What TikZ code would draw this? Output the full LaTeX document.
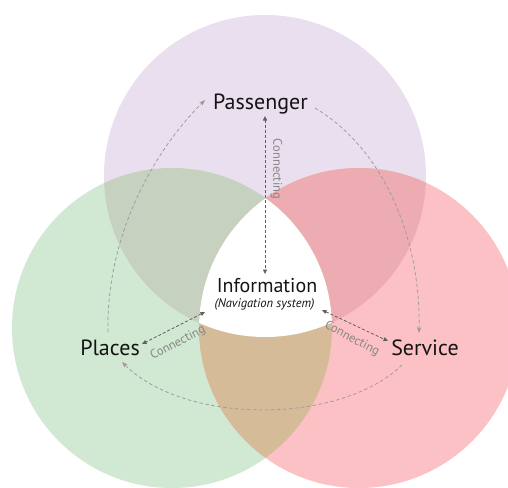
\documentclass[tikz,border=0pt]{standalone}
\usepackage{fontspec}
\setmainfont{PT Sans}
\usetikzlibrary{arrows.meta}
\definecolor{cTop}{RGB}{234,223,238}
\definecolor{cLeft}{RGB}{209,232,210}
\definecolor{cRight}{RGB}{252,193,197}
\definecolor{cTL}{RGB}{199,209,191}
\definecolor{cTR}{RGB}{237,172,177}
\definecolor{cLR}{RGB}{214,187,153}
\definecolor{cText}{RGB}{20,20,20}
\definecolor{cConn}{RGB}{135,135,135}
\definecolor{cLink}{RGB}{95,95,95}
\definecolor{cLoop}{RGB}{155,155,155}
\begin{document}
\begin{tikzpicture}[x=1pt,y=-1pt]
\tikzset{
  lbl/.style={font=\fontsize{22}{26}\selectfont, text=cText, inner sep=0pt, anchor=base},
  sublbl/.style={font=\fontsize{12.5}{14}\selectfont\itshape, text=cText, inner sep=0pt, anchor=base},
  conn/.style={font=\fontsize{12.5}{14}\selectfont, text=cConn, inner sep=0pt},
  link/.style={draw=cLink, dash pattern=on 3pt off 2pt, line width=0.8pt,
    {Triangle[length=4.5pt,width=4pt]}-{Triangle[length=4.5pt,width=4pt]}},
  loopline/.style={draw=cLoop, dash pattern=on 3.5pt off 2.5pt, line width=0.75pt,
    -{Stealth[length=6pt,width=4.5pt]}},
}
\useasboundingbox (0,0) rectangle (508,487);
\fill[white] (0,0) rectangle (508,487);
% circles
\def\topc{(265,176) circle[radius=161]}
\def\leftc{(172,328) circle[radius=160]}
\def\rightc{(359,328) circle[radius=160]}
\fill[cTop] \topc;
\fill[cLeft] \leftc;
\fill[cRight] \rightc;
\begin{scope}\clip \topc; \fill[cTL] \leftc; \end{scope}
\begin{scope}\clip \topc; \fill[cTR] \rightc; \end{scope}
\begin{scope}\clip \leftc; \fill[cLR] \rightc; \end{scope}
\begin{scope}\clip \topc; \clip \leftc; \fill[white] \rightc; \end{scope}

% labels
\node[lbl] (pass) at (260.5,109) {Passenger};
\node[lbl] (places) at (110,355) {Places};
\node[lbl] (serv) at (425,355) {Service};
\node[lbl, font=\fontsize{20}{23}\selectfont] (info) at (267,292) {Information};
\node[sublbl] (nav) at (264.5,307) {(Navigation system)};

% link end points
\coordinate (pB) at (265,116);
\coordinate (iT) at (265,274);
\coordinate (iL) at (205,312);
\coordinate (plR) at (142,344);
\coordinate (iR) at (322,310);
\coordinate (svL) at (388,341);
\draw[link] (pB) -- (iT);
\draw[link] (iL) -- (plR);
\draw[link] (iR) -- (svL);

\node[conn, rotate=-90] (c1) at (276.5,169) {Connecting};
\node[conn, rotate=28] (c2) at (178,343) {Connecting};
\node[conn, rotate=-28] (c3) at (352,339) {Connecting};

% loop arcs
\coordinate (plT) at (108,332);
\coordinate (pL) at (205,100);
\coordinate (pR) at (315,108);
\coordinate (svT) at (419,333);
\coordinate (svB) at (402,365);
\coordinate (plB) at (122,362);
\draw[loopline] (plT) .. controls (106,240) and (150,155) .. (pL);
\draw[loopline] (pR) .. controls (385,150) and (421,240) .. (svT);
\draw[loopline] (svB) .. controls (340,425) and (185,425) .. (plB);
\end{tikzpicture}
\end{document}
